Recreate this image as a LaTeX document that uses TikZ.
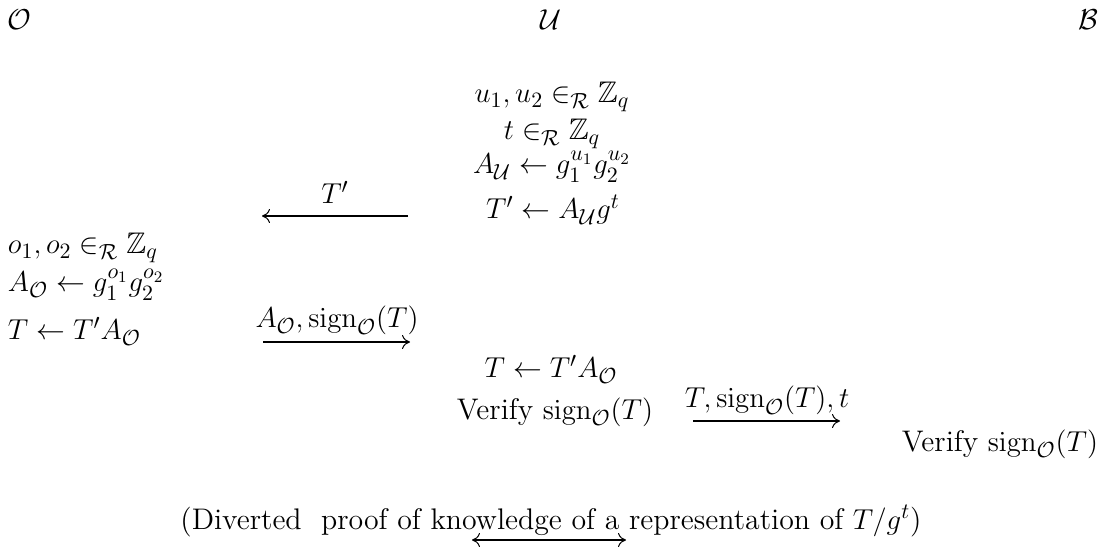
\documentclass[tikz,border=0pt]{standalone}
\usepackage{amssymb}
\DeclareMathSizes{14.9}{14.9}{11.2}{8.5}
\usetikzlibrary{arrows.meta}
\begin{document}
\begin{tikzpicture}[x=0.5pt,y=-0.5pt,
  every node/.style={inner sep=0pt, outer sep=0pt, font=\fontsize{14.9}{18}\selectfont},
  msg/.style={line width=0.9pt, -{Computer Modern Rightarrow[line width=0.5pt,length=4pt,width=7pt]}},
  msgboth/.style={line width=0.9pt, {Computer Modern Rightarrow[line width=0.5pt,length=4pt,width=7pt]}-{Computer Modern Rightarrow[line width=0.5pt,length=4pt,width=7pt]}}]
\useasboundingbox (0,0) rectangle (1102,550);
% parties
\node[anchor=base west] (O) at (8,30) {$\mathcal{O}$};
\node[anchor=base] (U) at (551,30) {$\mathcal{U}$};
\node[anchor=base east] (B) at (1098,30) {$\mathcal{B}$};
% user column
\node[anchor=base] (u1) at (552,103) {$u_1, u_2 \in_{\mathcal{R}} \mathbb{Z}_q$};
\node[anchor=base] (t1) at (552,140) {$t \in_{\mathcal{R}} \mathbb{Z}_q$};
\node[anchor=base] (AU) at (552,174) {$A_{\mathcal{U}} \leftarrow g_1^{u_1} g_2^{u_2}$};
\node[anchor=base] (Tp) at (553,219) {$T' \leftarrow A_{\mathcal{U}} g^t$};
% message T'
\coordinate (m1s) at (408,216);
\coordinate (m1e) at (262,216);
\draw[msg] (m1s) -- (m1e);
\node[anchor=base] (l1) at (335,204) {$T'$};
% organisation column
\node[anchor=base west] (o1) at (8,254) {$o_1, o_2 \in_{\mathcal{R}} \mathbb{Z}_q$};
\node[anchor=base west] (AO) at (8,292) {$A_{\mathcal{O}} \leftarrow g_1^{o_1} g_2^{o_2}$};
\node[anchor=base west] (TO) at (8,340) {$T \leftarrow T' A_{\mathcal{O}}$};
% message A_O, sign
\coordinate (m2s) at (263,342);
\coordinate (m2e) at (410,342);
\draw[msg] (m2s) -- (m2e);
\node[anchor=base] (l2) at (337,328) {$A_{\mathcal{O}}, \mathrm{sign}_{\mathcal{O}}(T)$};
% user again
\node[anchor=base] (TU) at (551,378) {$T \leftarrow T' A_{\mathcal{O}}$};
\node[anchor=base] (VU) at (555,419) {Verify $\mathrm{sign}_{\mathcal{O}}(T)$};
% message to B
\coordinate (m3s) at (693,421);
\coordinate (m3e) at (840,421);
\draw[msg] (m3s) -- (m3e);
\node[anchor=base] (l3) at (767,408) {$T, \mathrm{sign}_{\mathcal{O}}(T), t$};
% bank
\node[anchor=base east] (VB) at (1098,451) {Verify $\mathrm{sign}_{\mathcal{O}}(T)$};
% proof
\node[anchor=base] (PF) at (551,529) {(Diverted\ \ proof of knowledge of a representation of $T/g^t$)};
\coordinate (m4s) at (472,540);
\coordinate (m4e) at (626,540);
\draw[msgboth] (m4s) -- (m4e);
\end{tikzpicture}
\end{document}
